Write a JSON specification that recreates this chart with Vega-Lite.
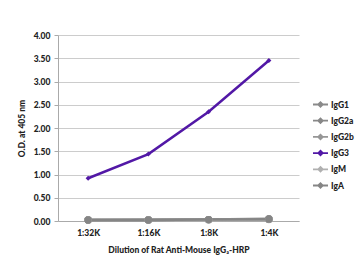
{
  "$schema": "https://vega.github.io/schema/vega-lite/v6.json",
  "width": 241,
  "height": 186,
  "autosize": {"type": "none"},
  "padding": {"left": 58, "top": 35, "right": 64, "bottom": 56},
  "background": "white",
  "config": {
    "view": {"stroke": null},
    "font": "Lato",
    "axis": {"labelFont": "Lato", "titleFont": "Lato", "labelFontWeight": 900, "titleFontWeight": 900, "labelColor": "#222", "titleColor": "#222"}
  },
  "data": {
    "values": [
      {"dilution": "1:32K", "isotype": "IgG1", "od": 0.02},
      {"dilution": "1:16K", "isotype": "IgG1", "od": 0.02},
      {"dilution": "1:8K", "isotype": "IgG1", "od": 0.03},
      {"dilution": "1:4K", "isotype": "IgG1", "od": 0.04},
      {"dilution": "1:32K", "isotype": "IgG2a", "od": 0.02},
      {"dilution": "1:16K", "isotype": "IgG2a", "od": 0.02},
      {"dilution": "1:8K", "isotype": "IgG2a", "od": 0.03},
      {"dilution": "1:4K", "isotype": "IgG2a", "od": 0.05},
      {"dilution": "1:32K", "isotype": "IgG2b", "od": 0.02},
      {"dilution": "1:16K", "isotype": "IgG2b", "od": 0.03},
      {"dilution": "1:8K", "isotype": "IgG2b", "od": 0.03},
      {"dilution": "1:4K", "isotype": "IgG2b", "od": 0.04},
      {"dilution": "1:32K", "isotype": "IgM", "od": 0.02},
      {"dilution": "1:16K", "isotype": "IgM", "od": 0.02},
      {"dilution": "1:8K", "isotype": "IgM", "od": 0.02},
      {"dilution": "1:4K", "isotype": "IgM", "od": 0.03},
      {"dilution": "1:32K", "isotype": "IgA", "od": 0.02},
      {"dilution": "1:16K", "isotype": "IgA", "od": 0.02},
      {"dilution": "1:8K", "isotype": "IgA", "od": 0.03},
      {"dilution": "1:4K", "isotype": "IgA", "od": 0.04},
      {"dilution": "1:32K", "isotype": "IgG3", "od": 0.92},
      {"dilution": "1:16K", "isotype": "IgG3", "od": 1.44},
      {"dilution": "1:8K", "isotype": "IgG3", "od": 2.35},
      {"dilution": "1:4K", "isotype": "IgG3", "od": 3.45}
    ]
  },
  "encoding": {
    "x": {
      "field": "dilution", "type": "ordinal", "sort": ["1:32K", "1:16K", "1:8K", "1:4K"],
      "scale": {"type": "point", "padding": 0.5},
      "axis": {"title": "Dilution of Rat Anti-Mouse IgG₃-HRP", "labelAngle": 0, "labelFontSize": 8.5, "titleFontSize": 8.5, "ticks": false, "domainColor": "#aaaaaa", "labelPadding": 7, "titlePadding": 9}
    },
    "y": {
      "field": "od", "type": "quantitative",
      "scale": {"domain": [0, 4], "nice": false},
      "axis": {"title": "O.D. at 405 nm", "values": [0, 0.5, 1, 1.5, 2, 2.5, 3, 3.5, 4], "format": ".2f", "labelFontSize": 8.5, "titleFontSize": 8.5, "gridColor": "#cccccc", "domainColor": "#aaaaaa", "tickColor": "#aaaaaa", "tickSize": 4, "labelPadding": 4, "titlePadding": 7}
    },
    "color": {
      "field": "isotype", "type": "nominal",
      "scale": {"domain": ["IgG1", "IgG2a", "IgG2b", "IgG3", "IgM", "IgA"], "range": ["#8a8a8a", "#888888", "#969696", "#5218a6", "#b0b0b0", "#858585"]},
      "legend": {"title": null, "orient": "none", "legendX": 254, "legendY": 61, "labelFont": "Lato", "labelFontWeight": 900, "labelFontSize": 8.5, "labelColor": "#222", "rowPadding": 1.2, "symbolType": "M-1,0H1M-0.3,0L0,-0.3L0.3,0L0,0.3Z", "symbolStrokeWidth": 1.8, "symbolSize": 225, "labelOffset": 2}
    }
  },
  "layer": [
    {"mark": {"type": "line", "strokeWidth": 2.5}},
    {"transform": [{"filter": "datum.isotype != 'IgG3'"}], "mark": {"type": "point", "filled": true, "size": 55, "shape": "circle", "opacity": 1}},
    {"transform": [{"filter": "datum.isotype == 'IgG3'"}], "mark": {"type": "point", "filled": true, "size": 25, "shape": "diamond", "opacity": 1}}
  ]
}
